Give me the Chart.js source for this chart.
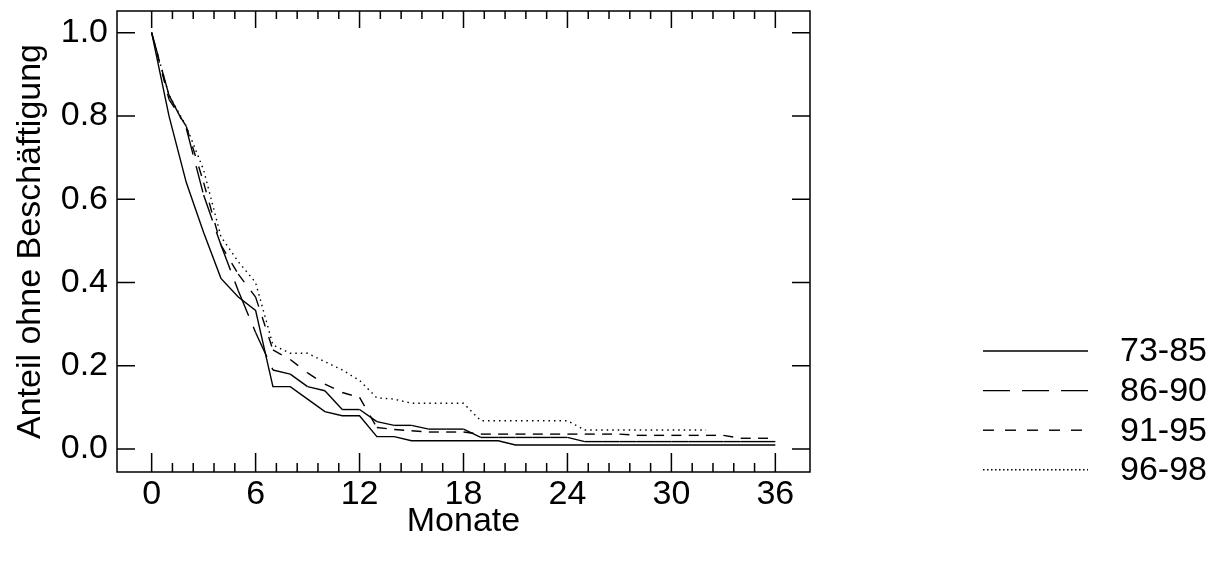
<!DOCTYPE html>
<html>
<head>
<meta charset="utf-8">
<title>Anteil ohne Beschäftigung</title>
<script src="https://cdn.jsdelivr.net/npm/chart.js@4.4.1/dist/chart.umd.min.js"></script>
<style>
  html, body { margin: 0; padding: 0; background: #fff; }
  #wrap { width: 1223px; height: 562px; }
</style>
</head>
<body>
<div id="wrap"><canvas id="chart" width="1223" height="562"></canvas></div>
<script>
(function () {
  'use strict';

  var FONT = '"Liberation Sans", Arial, Helvetica, sans-serif';

  // months since start -> share still without job, one value per month
  var LABELS = ['73-85', '86-90', '91-95', '96-98'];

  var months = [0, 1, 2, 3, 4, 5, 6, 7, 8, 9, 10, 11, 12, 13, 14, 15, 16, 17, 18,
    19, 20, 21, 22, 23, 24, 25, 26, 27, 28, 29, 30, 31, 32, 33, 34, 35, 36];

  var share7385 = [1, 0.80, 0.64, 0.52, 0.41, 0.365, 0.333, 0.15, 0.15, 0.12, 0.09, 0.08, 0.08,
    0.03, 0.03, 0.02, 0.02, 0.02, 0.02, 0.02, 0.02, 0.01, 0.01, 0.01, 0.01, 0.01, 0.01,
    0.01, 0.01, 0.01, 0.01, 0.01, 0.01, 0.01, 0.01, 0.01, 0.01];

  var share8690 = [1, 0.85, 0.77, 0.61, 0.49, 0.38, 0.28, 0.19, 0.18, 0.15, 0.14, 0.095, 0.095,
    0.066, 0.057, 0.057, 0.048, 0.048, 0.048, 0.028, 0.028, 0.028, 0.028, 0.028, 0.028, 0.018,
    0.018, 0.018, 0.018, 0.018, 0.018, 0.018, 0.018, 0.018, 0.018, 0.018, 0.018];

  var share9195 = [1, 0.84, 0.775, 0.64, 0.49, 0.42, 0.365, 0.238, 0.215, 0.183, 0.156, 0.136, 0.124,
    0.052, 0.047, 0.044, 0.041, 0.041, 0.041, 0.036, 0.036, 0.036, 0.036, 0.036, 0.036, 0.036,
    0.036, 0.036, 0.033, 0.033, 0.033, 0.033, 0.033, 0.033, 0.026, 0.026, 0.026];

  // 96-98 is only observed up to month 32
  var share9698 = [1, 0.85, 0.775, 0.67, 0.51, 0.45, 0.40, 0.25, 0.23, 0.23, 0.21, 0.19, 0.165,
    0.123, 0.12, 0.11, 0.11, 0.11, 0.11, 0.068, 0.068, 0.068, 0.068, 0.068, 0.068, 0.046,
    0.046, 0.046, 0.046, 0.046, 0.046, 0.046, 0.046];

  var xTicks = [0, 6, 12, 18, 24, 30, 36];
  var xTickLabels = ['0', '6', '12', '18', '24', '30', '36'];
  var yTicks = [0, 0.2, 0.4, 0.6, 0.8, 1.0];
  var yTickLabels = ['0.0', '0.2', '0.4', '0.6', '0.8', '1.0'];
  var X_MINOR_STEP = 1.2;

  var LINE_DASH = [[], [27, 12], [10, 11], [1.5, 4]];
  var LEGEND_DASH = [[], [27, 12], [11, 11], [1.5, 2.5]];

  function points(ys) {
    return ys.map(function (y, i) { return { x: months[i], y: y }; });
  }

  // restart the dash pattern at every vertex, like the original plot did
  function restartDash(ctx) { return (ctx.p0DataIndex % 2) * 0.001; }

  function makeSet(i, ys, restart) {
    var ds = {
      label: LABELS[i],
      data: points(ys),
      borderColor: '#000',
      borderWidth: 1.4,
      borderDash: LINE_DASH[i],
      pointRadius: 0,
      tension: 0,
      fill: false
    };
    if (restart) ds.segment = { borderDashOffset: restartDash };
    return ds;
  }

  var frameTicks = {
    id: 'frameTicks',
    afterDraw: function (chart) {
      var ctx = chart.ctx;
      var a = chart.chartArea;
      var xs = chart.scales.x;
      var ys = chart.scales.y;
      ctx.save();
      ctx.strokeStyle = '#000';
      ctx.lineWidth = 1.5;
      ctx.setLineDash([]);
      ctx.beginPath();
      ctx.rect(a.left, a.top, a.right - a.left, a.bottom - a.top);
      xTicks.forEach(function (v) {
        var px = xs.getPixelForValue(v);
        ctx.moveTo(px, a.bottom); ctx.lineTo(px, a.bottom - 19);
        ctx.moveTo(px, a.top); ctx.lineTo(px, a.top + 17);
      });
      for (var k = 1; k < 30; k++) {
        if (k % 5 === 0) continue;
        var px = xs.getPixelForValue(k * X_MINOR_STEP);
        ctx.moveTo(px, a.bottom); ctx.lineTo(px, a.bottom - 9);
        ctx.moveTo(px, a.top); ctx.lineTo(px, a.top + 8);
      }
      yTicks.forEach(function (v) {
        var py = ys.getPixelForValue(v);
        ctx.moveTo(a.left, py); ctx.lineTo(a.left + 18, py);
        ctx.moveTo(a.right, py); ctx.lineTo(a.right - 18, py);
      });
      ctx.stroke();

      // legend to the right of the frame
      ctx.font = '34px ' + FONT;
      ctx.textBaseline = 'middle';
      ctx.textAlign = 'left';
      ctx.fillStyle = '#000';
      chart.data.datasets.forEach(function (ds, i) {
        var y = 351 + i * 39.6;
        ctx.beginPath();
        ctx.lineWidth = 1.4;
        ctx.setLineDash(LEGEND_DASH[i]);
        ctx.moveTo(983, y);
        ctx.lineTo(1088, y);
        ctx.stroke();
        ctx.setLineDash([]);
        ctx.fillText(ds.label, 1120, y + 1);
      });
      ctx.restore();
    }
  };

  Chart.defaults.font.family = FONT;
  Chart.defaults.font.size = 34;
  Chart.defaults.color = '#000';

  new Chart(document.getElementById('chart').getContext('2d'), {
    type: 'line',
    plugins: [frameTicks],
    data: {
      datasets: [
        makeSet(0, share7385, false),
        makeSet(1, share8690, true),
        makeSet(2, share9195, true),
        makeSet(3, share9698, false)
      ]
    },
    options: {
      responsive: false,
      animation: false,
      events: [],
      layout: { padding: { top: 11, right: 413, left: 0, bottom: 0 } },
      plugins: { legend: { display: false }, tooltip: { enabled: false } },
      scales: {
        x: {
          type: 'linear',
          min: -2,
          max: 38,
          grid: { display: false, drawTicks: false },
          border: { display: false },
          afterBuildTicks: function (s) { s.ticks = xTicks.map(function (v) { return { value: v }; }); },
          afterFit: function (s) { s.height = 90; s.paddingLeft = 0; s.paddingRight = 0; },
          ticks: {
            padding: 2,
            maxRotation: 0,
            autoSkip: false,
            callback: function (v, i) { return xTickLabels[i]; }
          },
          title: { display: true, text: 'Monate', padding: { top: 0, bottom: 20 } }
        },
        y: {
          type: 'linear',
          min: -0.055,
          max: 1.052,
          grid: { display: false, drawTicks: false },
          border: { display: false },
          afterBuildTicks: function (s) { s.ticks = yTicks.map(function (v) { return { value: v }; }); },
          afterFit: function (s) { s.width = 117; s.paddingTop = 0; s.paddingBottom = 0; },
          ticks: {
            padding: 9,
            autoSkip: false,
            callback: function (v, i) { return yTickLabels[i]; }
          },
          title: { display: true, text: 'Anteil ohne Beschäftigung', padding: { top: 10, bottom: 0 } }
        }
      }
    }
  });
})();
</script>
</body>
</html>
